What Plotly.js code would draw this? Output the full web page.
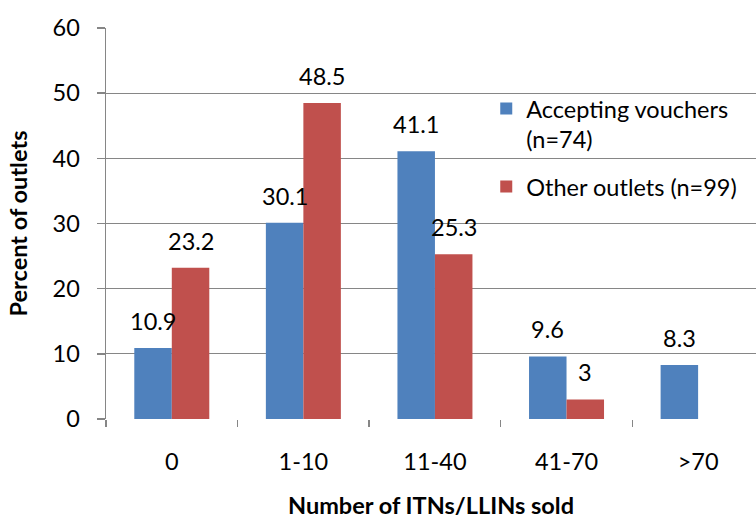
<!DOCTYPE html>
<html>
<head>
<meta charset="utf-8">
<script src="https://cdn.plot.ly/plotly-3.0.1.min.js"></script>
<style>
  html, body { margin: 0; padding: 0; background: #fff; }
  #chart { width: 756px; height: 519px; }
</style>
</head>
<body>
<div id="chart"></div>
<script>
// Outlets by number of ITNs/LLINs sold
const categories = ['0', '1-10', '11-40', '41-70', '>70'];
const voucherValues = [10.9, 30.1, 41.1, 9.6, 8.3];
const otherValues = [23.2, 48.5, 25.3, 3, null];
const voucherName = 'Accepting vouchers<br>(n=74)';
const otherName = 'Other outlets (n=99)';
const yTicks = [0, 10, 20, 30, 40, 50, 60];

const FONT = 'Lato, "Open Sans", sans-serif';
const SIZE = 23.5;
const BLUE = '#4F81BD';
const RED = '#C0504D';
const GRID = '#868686';
const BARGAP = 0.43;
const halfBar = (1 - BARGAP) / 4;

const traces = [
  {
    type: 'bar', name: voucherName, x: categories, y: voucherValues,
    marker: { color: BLUE }, legendgroup: 'a', hoverinfo: 'skip'
  },
  {
    type: 'bar', name: otherName, x: categories, y: otherValues,
    marker: { color: RED }, legendgroup: 'b', hoverinfo: 'skip'
  }
];

// value labels above each bar
const annotations = [];
function addLabels(values, offset) {
  values.forEach((v, i) => {
    if (v === null) return;
    annotations.push({
      x: i + offset, y: v, xref: 'x', yref: 'y',
      text: String(v), showarrow: false,
      xanchor: 'center', yanchor: 'bottom', yshift: 11,
      font: { family: FONT, size: SIZE, color: '#000' }
    });
  });
}
addLabels(voucherValues, -halfBar);
addLabels(otherValues, halfBar);

const layout = {
  width: 756, height: 519,
  margin: { l: 106, r: 0, t: 28, b: 99.5 },
  paper_bgcolor: '#fff', plot_bgcolor: '#fff',
  barmode: 'group', bargap: BARGAP, bargroupgap: 0,
  font: { family: FONT, size: SIZE, color: '#000' },
  showlegend: true,
  legend: {
    x: 0.585, y: 0.85, xanchor: 'left', yanchor: 'top',
    bgcolor: 'rgba(0,0,0,0)', valign: 'top',
    traceorder: 'grouped', tracegroupgap: 14,
    font: { family: FONT, size: SIZE, color: '#000' }
  },
  xaxis: {
    type: 'category', range: [-0.5, 4.44],
    showgrid: false, zeroline: false, showline: false,
    ticks: 'outside', ticklen: 7, tickcolor: GRID, tickwidth: 1.5,
    tickson: 'boundaries', ticklabelstandoff: 26,
    tickfont: { family: FONT, size: SIZE, color: '#000' },
    title: {
      text: 'Number of ITNs/LLINs sold', standoff: 36,
      font: { family: FONT, size: SIZE, color: '#000', weight: 'bold' }
    },
    automargin: false, fixedrange: true
  },
  yaxis: {
    range: [0, 60], tickvals: yTicks,
    showgrid: true, gridcolor: GRID, gridwidth: 1,
    zeroline: false, showline: true, linecolor: GRID, linewidth: 1.5,
    ticks: 'outside', ticklen: 8, tickcolor: GRID, tickwidth: 1.5,
    ticklabelstandoff: 12,
    tickfont: { family: FONT, size: SIZE, color: '#000' },
    title: {
      text: 'Percent of outlets', standoff: 18,
      font: { family: FONT, size: SIZE, color: '#000', weight: 'bold' }
    },
    automargin: false, fixedrange: true
  },
  annotations: annotations
};

Plotly.newPlot('chart', traces, layout, { staticPlot: true, displayModeBar: false });
</script>
</body>
</html>
